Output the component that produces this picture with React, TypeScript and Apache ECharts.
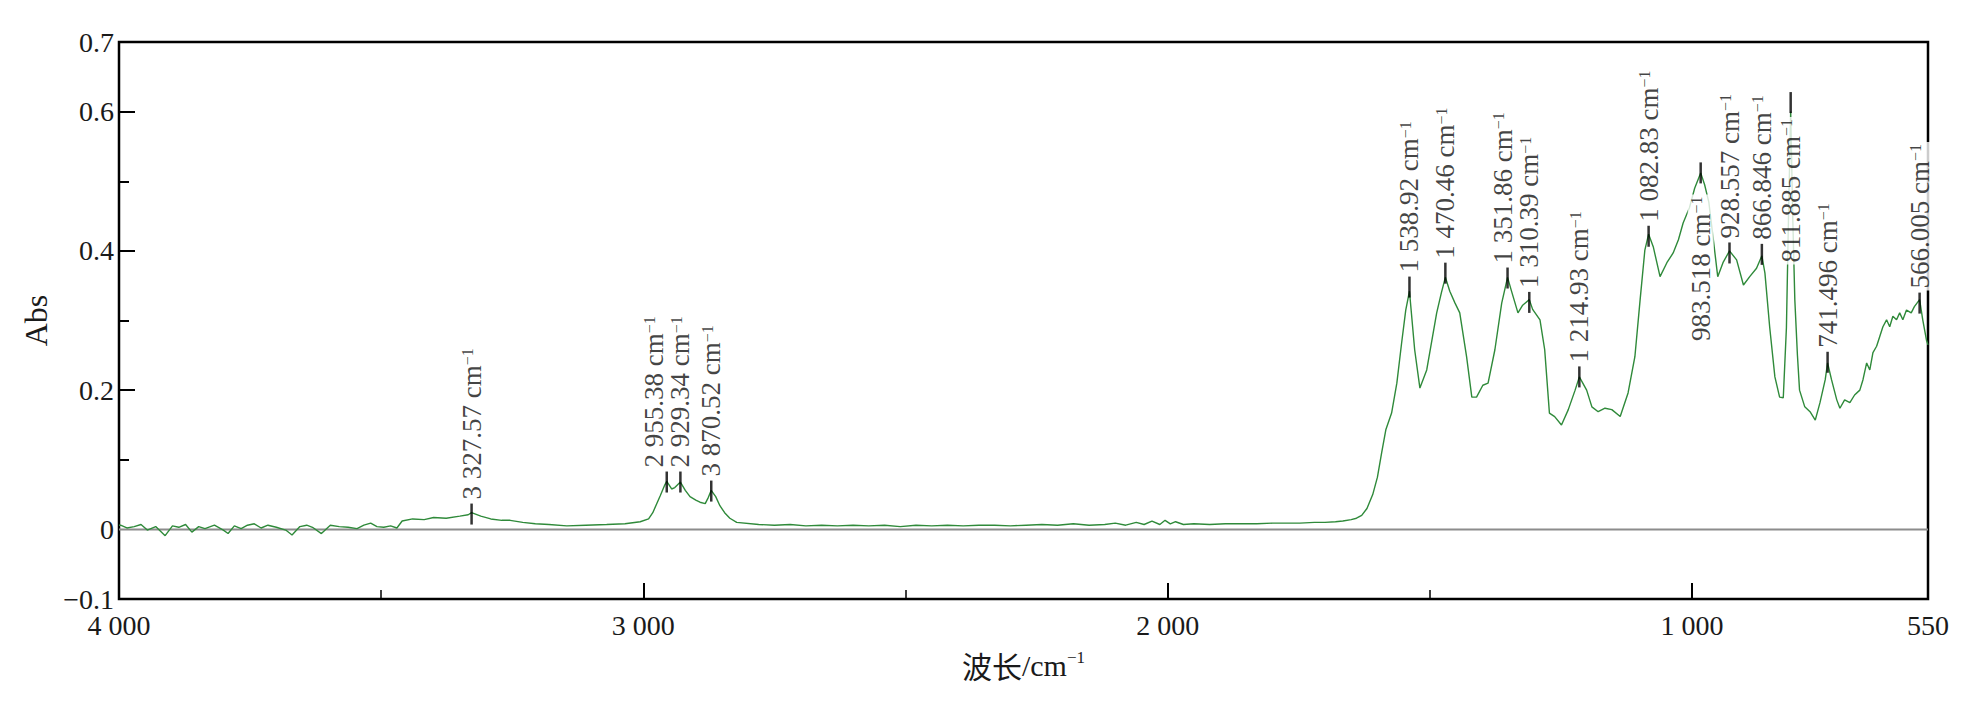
import { useEffect, useRef } from 'react';
import * as echarts from 'echarts';

const SERIF = 'Liberation Serif';
const CJK = 'Noto Sans CJK SC';

// ---- spectrum, high wavenumber noisy baseline (4000 - 3470 cm-1)
const noiseWn = [4000, 3997, 3985, 3971, 3958, 3946, 3930, 3912, 3898, 3886,
  3873, 3861, 3848, 3836, 3818, 3801, 3792, 3780, 3767, 3755,
  3742, 3729, 3716, 3700, 3682, 3670, 3655, 3642, 3631, 3614,
  3597, 3580, 3563, 3546, 3533, 3520, 3508, 3495, 3482, 3470];
const noiseAbs = [0.006, 0.006, 0.002, 0.004, 0.007, -0.001, 0.004, -0.009, 0.005, 0.003,
  0.007, -0.004, 0.004, 0.001, 0.006, -0.001, -0.006, 0.005, 0.001, 0.006,
  0.008, 0.002, 0.006, 0.003, -0.001, -0.008, 0.004, 0.006, 0.003, -0.006,
  0.006, 0.004, 0.003, 0.001, 0.006, 0.009, 0.004, 0.003, 0.005, 0.002];

// ---- O-H and C-H stretch region (3460 - 2822 cm-1)
const stretchWn = [3460, 3440, 3418, 3400, 3376, 3350, 3334, 3327.57, 3310, 3291,
  3270, 3254, 3230, 3206, 3180, 3146, 3110, 3070, 3035, 3006,
  2990, 2982, 2968, 2959, 2955.38, 2946, 2940, 2929.34, 2920, 2911,
  2900, 2892, 2882, 2876, 2870.52, 2862, 2854, 2845, 2835, 2822];
const stretchAbs = [0.012, 0.015, 0.014, 0.017, 0.016, 0.019, 0.021, 0.024, 0.019, 0.015,
  0.013, 0.013, 0.010, 0.008, 0.007, 0.005, 0.006, 0.007, 0.008, 0.011,
  0.015, 0.024, 0.048, 0.064, 0.069, 0.058, 0.060, 0.068, 0.056, 0.047,
  0.042, 0.039, 0.037, 0.046, 0.056, 0.047, 0.034, 0.024, 0.016, 0.010];

// ---- flat middle region (2780 - 1609 cm-1)
const midWn = [2780, 2750, 2720, 2690, 2660, 2630, 2600, 2570, 2540, 2510,
  2480, 2450, 2420, 2390, 2360, 2330, 2300, 2270, 2240, 2210,
  2180, 2150, 2120, 2100, 2080, 2060, 2045, 2030, 2015, 2005,
  1995, 1985, 1970, 1950, 1920, 1890, 1860, 1830, 1800, 1770,
  1748, 1720, 1700, 1680, 1666, 1650, 1640, 1630, 1620, 1609];
const midAbs = [0.007, 0.006, 0.007, 0.005, 0.006, 0.005, 0.006, 0.005, 0.006, 0.004,
  0.006, 0.005, 0.006, 0.005, 0.006, 0.006, 0.005, 0.006, 0.007, 0.006,
  0.008, 0.006, 0.007, 0.009, 0.006, 0.010, 0.007, 0.012, 0.007, 0.013,
  0.008, 0.011, 0.007, 0.008, 0.007, 0.008, 0.008, 0.008, 0.009, 0.009,
  0.009, 0.010, 0.010, 0.011, 0.012, 0.014, 0.016, 0.020, 0.030, 0.050];

// ---- fingerprint region (1600 - 550 cm-1)
const fingerWn = [1600, 1592, 1584, 1573, 1563, 1554, 1546, 1538.92, 1529, 1519,
  1506, 1487, 1478, 1470.46, 1462, 1452, 1443, 1430, 1420, 1411,
  1399, 1389, 1376, 1363, 1351.86, 1345, 1332, 1323, 1310.39, 1304,
  1290, 1281, 1272, 1262, 1249, 1236, 1223, 1214.93, 1201, 1191,
  1179, 1166, 1153, 1137, 1122, 1109, 1099, 1090, 1082.83, 1074,
  1061, 1048, 1036, 1026, 1017, 1005, 995, 983.518, 976, 968,
  960, 951, 941, 928.557, 915, 902, 890, 877, 866.846, 861,
  852, 842, 833, 826, 820, 816, 811.885, 808, 804, 799,
  795, 785, 775, 765, 756, 746, 741.496, 734, 724, 718,
  709, 699, 690, 680, 674, 667, 661, 655, 648, 642,
  636, 629, 623, 617, 610, 604, 598, 591, 582, 576,
  566.005, 560, 553, 550];
const fingerAbs = [0.075, 0.110, 0.143, 0.167, 0.210, 0.267, 0.315, 0.342, 0.258, 0.203,
  0.229, 0.311, 0.340, 0.362, 0.342, 0.325, 0.311, 0.248, 0.190, 0.190,
  0.207, 0.210, 0.258, 0.325, 0.362, 0.344, 0.311, 0.322, 0.330, 0.316,
  0.301, 0.258, 0.167, 0.162, 0.150, 0.172, 0.200, 0.219, 0.200, 0.176,
  0.169, 0.174, 0.172, 0.162, 0.196, 0.248, 0.330, 0.401, 0.424, 0.406,
  0.363, 0.383, 0.397, 0.416, 0.440, 0.462, 0.490, 0.512, 0.495, 0.470,
  0.420, 0.363, 0.383, 0.400, 0.387, 0.351, 0.363, 0.375, 0.393, 0.368,
  0.291, 0.219, 0.190, 0.189, 0.290, 0.450, 0.600, 0.450, 0.330, 0.250,
  0.200, 0.176, 0.169, 0.157, 0.182, 0.215, 0.239, 0.215, 0.186, 0.174,
  0.186, 0.182, 0.193, 0.200, 0.215, 0.239, 0.229, 0.254, 0.263, 0.277,
  0.291, 0.301, 0.291, 0.306, 0.301, 0.311, 0.301, 0.315, 0.311, 0.320,
  0.330, 0.301, 0.272, 0.265];

// ---- peak annotations
const peakWn = [3327.57, 2955.38, 2929.34, 2870.52, 1538.92, 1470.46, 1351.86, 1310.39,
  1214.93, 1082.83, 983.518, 928.557, 866.846, 811.885, 741.496, 566.005];
const peakAbs = [0.022, 0.068, 0.068, 0.055, 0.348, 0.368, 0.361, 0.326,
  0.219, 0.421, 0.512, 0.397, 0.395, 0.613, 0.240, 0.325];
const peakText = ['3 327.57', '2 955.38', '2 929.34', '3 870.52', '1 538.92', '1 470.46', '1 351.86', '1 310.39',
  '1 214.93', '1 082.83', '983.518', '928.557', '866.846', '811.885', '741.496', '566.005'];
const peakBelow = [false, false, false, false, false, false, false, false,
  false, false, true, false, false, true, false, false];

// ---- axes
const zeroLineWn = [4000, 550];
const xLabelValues = [4000, 3000, 2000, 1000, 550];
const xMajorTicks = [3000, 2000, 1000];
const xMinorTicks = [3500, 2500, 1500];
const yLabelValues = [-0.1, 0, 0.2, 0.4, 0.6, 0.7];
const yMajorTicks = [0.2, 0.4, 0.6];
const yMinorTicks = [0.1, 0.3, 0.5];

// label placement tweaks (layout only, keyed by peak index)
const labelTweaks: Record<number, any> = {
  1: { offset: [0, -13] },
  6: { offset: [0, -5] },
  10: { distance: 11 },
  13: { distance: 4 },
};

function fmtWn(v: number): string {
  if (v >= 1000) {
    const th = Math.floor(v / 1000);
    const rest = Math.round(v - th * 1000);
    return th + ' ' + String(rest).padStart(3, '0');
  }
  return String(Math.round(v));
}

function fmtAbs(v: number): string {
  const r = Math.round(v * 10) / 10;
  if (r === 0) return '0';
  return r < 0 ? '\u2212' + Math.abs(r).toFixed(1) : r.toFixed(1);
}

function zip(a: number[], b: number[]): number[][] {
  return a.map((w, i) => [w, b[i]]);
}

export default function App() {
  const ref = useRef<HTMLDivElement>(null);

  useEffect(() => {
    if (!ref.current) return;
    const chart = echarts.init(ref.current, null, { renderer: 'svg' });

    const spectrum = [
      ...zip(noiseWn, noiseAbs),
      ...zip(stretchWn, stretchAbs),
      ...zip(midWn, midAbs),
      ...zip(fingerWn, fingerAbs),
    ];

    const peakData = peakWn.map((w, i) => {
      const item: any = { value: [w, peakAbs[i]] };
      let lbl: any = {};
      if (peakBelow[i]) {
        lbl = { position: 'bottom', align: 'right' };
      }
      if (labelTweaks[i]) lbl = { ...lbl, ...labelTweaks[i] };
      if (Object.keys(lbl).length) item.label = lbl;
      return item;
    });

    const textColor = '#1a1a1a';
    const supRich = {
      t: { fontSize: 27, fontFamily: SERIF, color: '#111', lineHeight: 24 },
      s: { fontSize: 16, fontFamily: SERIF, color: '#111', lineHeight: 14, verticalAlign: 'top' },
    };

    const option: any = {
      animation: false,
      backgroundColor: '#ffffff',
      textStyle: { fontFamily: SERIF },
      grid: {
        left: 119, right: 48, top: 42, bottom: 113,
        show: true, borderColor: '#000', borderWidth: 2.5, backgroundColor: 'transparent',
      },
      xAxis: [
        {
          type: 'value', min: 550, max: 4000, inverse: true, position: 'bottom',
          name: '{c|波长}{t|/cm}{s|\u22121}', nameLocation: 'middle', nameGap: 50,
          nameTextStyle: {
            color: textColor, fontFamily: SERIF, fontSize: 30,
            rich: {
              c: { fontSize: 30, fontFamily: CJK, color: textColor, lineHeight: 32 },
              t: { fontSize: 30, fontFamily: SERIF, color: textColor, lineHeight: 32 },
              s: { fontSize: 17, fontFamily: SERIF, color: textColor, lineHeight: 17, verticalAlign: 'top' },
            },
          },
          axisLine: { show: false, onZero: false },
          axisTick: { show: true, inside: true, length: 16, lineStyle: { color: '#000', width: 2 }, customValues: xMajorTicks },
          axisLabel: { show: true, customValues: xLabelValues, formatter: (v: number) => fmtWn(v), margin: 12, fontSize: 28, fontFamily: SERIF, color: textColor },
          splitLine: { show: false },
        },
        {
          type: 'value', min: 550, max: 4000, inverse: true, position: 'bottom',
          axisLine: { show: false, onZero: false },
          axisTick: { show: true, inside: true, length: 9, lineStyle: { color: '#000', width: 1.5 }, customValues: xMinorTicks },
          axisLabel: { show: false },
          splitLine: { show: false },
        },
      ],
      yAxis: [
        {
          type: 'value', min: -0.1, max: 0.7, position: 'left',
          name: 'Abs', nameLocation: 'middle', nameGap: 51,
          nameTextStyle: { color: textColor, fontFamily: SERIF, fontSize: 32 },
          axisLine: { show: false, onZero: false },
          axisTick: { show: true, inside: true, length: 16, lineStyle: { color: '#000', width: 2 }, customValues: yMajorTicks },
          axisLabel: { show: true, customValues: yLabelValues, formatter: (v: number) => fmtAbs(v), margin: 5, fontSize: 28, fontFamily: SERIF, color: textColor },
          splitLine: { show: false },
        },
        {
          type: 'value', min: -0.1, max: 0.7, position: 'left',
          axisLine: { show: false, onZero: false },
          axisTick: { show: true, inside: true, length: 10, lineStyle: { color: '#000', width: 2 }, customValues: yMinorTicks },
          axisLabel: { show: false },
          splitLine: { show: false },
        },
      ],
      series: [
        {
          type: 'line', name: 'zero', xAxisIndex: 0, yAxisIndex: 0,
          data: zeroLineWn.map((w) => [w, 0]),
          symbol: 'none', silent: true, z: 1,
          lineStyle: { color: '#8c8c8c', width: 2 },
        },
        {
          type: 'line', name: 'spectrum', xAxisIndex: 0, yAxisIndex: 0,
          data: spectrum, symbol: 'none', z: 2,
          lineStyle: { color: '#2f8a3a', width: 1.4 },
        },
        {
          type: 'scatter', name: 'peaks', xAxisIndex: 0, yAxisIndex: 0,
          data: peakData, symbol: 'rect', symbolSize: [2.5, 21], z: 5,
          itemStyle: { color: '#000' },
          label: {
            show: true, rotate: 90, position: 'top', distance: 2,
            align: 'left', verticalAlign: 'middle',
            backgroundColor: '#ffffff', padding: [1, 2, 1, 2],
            fontFamily: SERIF,
            formatter: (p: any) => `{t|${peakText[p.dataIndex]} cm}{s|\u22121}`,
            rich: supRich,
          },
        },
      ],
    };

    chart.setOption(option);
    return () => chart.dispose();
  }, []);

  return (
    <div
      ref={ref}
      style={{ position: 'fixed', left: 0, top: 0, width: 1976, height: 712, background: '#fff' }}
    />
  );
}
